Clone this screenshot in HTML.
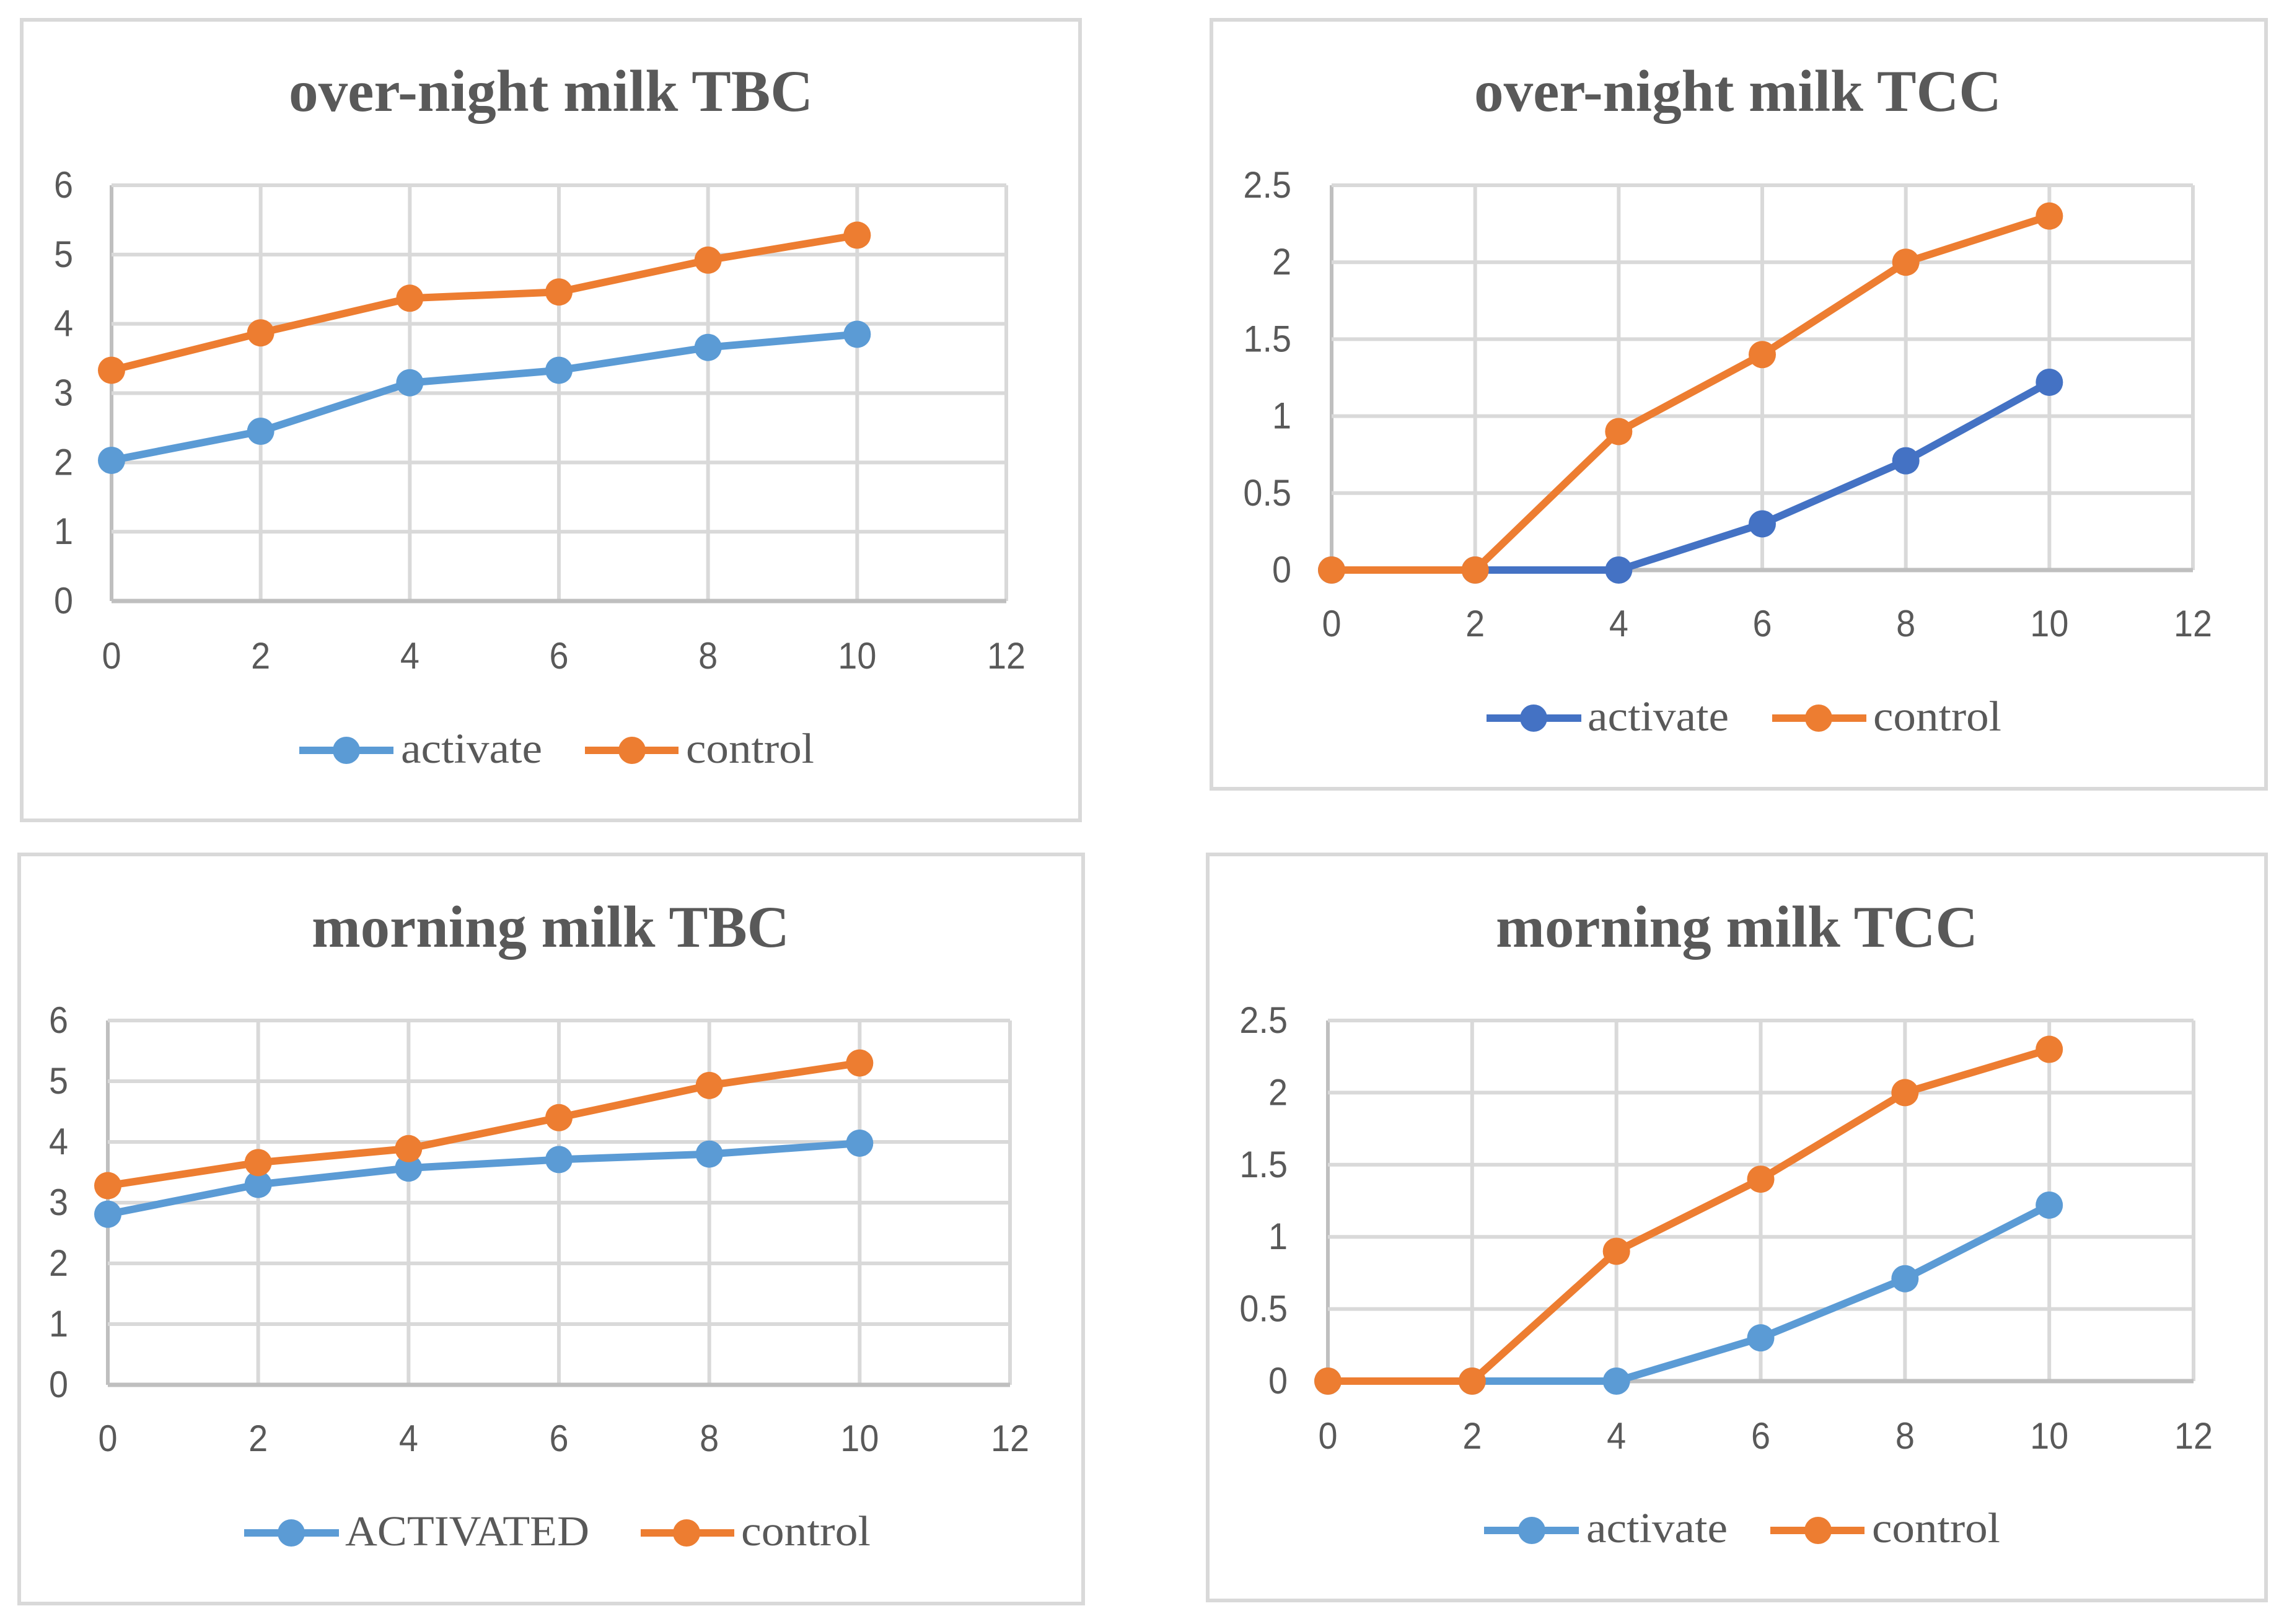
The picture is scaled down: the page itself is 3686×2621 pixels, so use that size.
<!DOCTYPE html>
<html lang="en">
<head>
<meta charset="utf-8">
<title>Milk TBC and TCC charts</title>
<style>
html,body{margin:0;padding:0;background:#fff;}
svg{display:block;}
.frame{fill:#fff;stroke:#d9d9d9;stroke-width:6;}
.title{font-family:"Liberation Serif",serif;font-weight:bold;font-size:95px;fill:#595959;}
.legend-text{font-family:"Liberation Serif",serif;font-size:69px;fill:#595959;}
.tick{font-family:"Liberation Sans",sans-serif;font-size:60px;fill:#595959;}
</style>
</head>
<body>
<svg id="root" xmlns="http://www.w3.org/2000/svg" width="3686" height="2621" viewBox="0 0 3686 2621">
  <rect width="3686" height="2621" fill="#fff"/>

  <g id="chart-a">
    <rect class="frame" x="35" y="32" width="1708" height="1292"/>
    <text class="title" x="466" y="179" textLength="846" lengthAdjust="spacingAndGlyphs">over-night milk TBC</text>
    <g>
      <line x1="483" y1="1211" x2="635" y2="1211" stroke="#5b9bd5" stroke-width="12"/>
      <circle cx="559" cy="1211" r="22" fill="#5b9bd5"/>
      <text class="legend-text" x="647" y="1231" textLength="228" lengthAdjust="spacingAndGlyphs">activate</text>
      <line x1="944" y1="1211" x2="1095" y2="1211" stroke="#ed7d31" stroke-width="12"/>
      <circle cx="1020" cy="1211" r="22" fill="#ed7d31"/>
      <text class="legend-text" x="1107" y="1231" textLength="207" lengthAdjust="spacingAndGlyphs">control</text>
    </g>
  </g>

  <g id="chart-b">
    <rect class="frame" x="1955" y="32" width="1702" height="1241"/>
    <text class="title" x="2379" y="179" textLength="851" lengthAdjust="spacingAndGlyphs">over-night milk TCC</text>
    <g>
      <line x1="2399" y1="1159" x2="2552" y2="1159" stroke="#4472c4" stroke-width="12"/>
      <circle cx="2475" cy="1159" r="22" fill="#4472c4"/>
      <text class="legend-text" x="2562" y="1179" textLength="228" lengthAdjust="spacingAndGlyphs">activate</text>
      <line x1="2860" y1="1159" x2="3012" y2="1159" stroke="#ed7d31" stroke-width="12"/>
      <circle cx="2935" cy="1159" r="22" fill="#ed7d31"/>
      <text class="legend-text" x="3023" y="1179" textLength="207" lengthAdjust="spacingAndGlyphs">control</text>
    </g>
  </g>

  <g id="chart-c">
    <rect class="frame" x="31" y="1379" width="1717" height="1209"/>
    <text class="title" x="503" y="1528" textLength="771" lengthAdjust="spacingAndGlyphs">morning milk TBC</text>
    <g>
      <line x1="394" y1="2474" x2="547" y2="2474" stroke="#5b9bd5" stroke-width="12"/>
      <circle cx="470" cy="2474" r="22" fill="#5b9bd5"/>
      <text class="legend-text" x="557" y="2494" textLength="394" lengthAdjust="spacingAndGlyphs">ACTIVATED</text>
      <line x1="1034" y1="2474" x2="1185" y2="2474" stroke="#ed7d31" stroke-width="12"/>
      <circle cx="1108" cy="2474" r="22" fill="#ed7d31"/>
      <text class="legend-text" x="1196" y="2494" textLength="209" lengthAdjust="spacingAndGlyphs">control</text>
    </g>
  </g>

  <g id="chart-d">
    <rect class="frame" x="1949" y="1379" width="1708" height="1204"/>
    <text class="title" x="2414" y="1528" textLength="778" lengthAdjust="spacingAndGlyphs">morning milk TCC</text>
    <g>
      <line x1="2395" y1="2470" x2="2548" y2="2470" stroke="#5b9bd5" stroke-width="12"/>
      <circle cx="2472" cy="2470" r="22" fill="#5b9bd5"/>
      <text class="legend-text" x="2560" y="2489" textLength="228" lengthAdjust="spacingAndGlyphs">activate</text>
      <line x1="2857" y1="2470" x2="3009" y2="2470" stroke="#ed7d31" stroke-width="12"/>
      <circle cx="2934" cy="2470" r="22" fill="#ed7d31"/>
      <text class="legend-text" x="3021" y="2489" textLength="207" lengthAdjust="spacingAndGlyphs">control</text>
    </g>
  </g>
</svg>
<script>
// Shared axes
const xValues = [0, 2, 4, 6, 8, 10];
const xTickLabels = [0, 2, 4, 6, 8, 10, 12];
const yTickLabelsTbc = [0, 1, 2, 3, 4, 5, 6];
const yTickLabelsTcc = [0, 0.5, 1, 1.5, 2, 2.5];

// Series values
const overnightTbcActivate = [2.03, 2.45, 3.15, 3.33, 3.66, 3.85];
const overnightTbcControl = [3.33, 3.87, 4.37, 4.46, 4.92, 5.28];
const overnightTccActivate = [0, 0, 0, 0.3, 0.71, 1.22];
const overnightTccControl = [0, 0, 0.9, 1.4, 2, 2.3];
const morningTbcActivated = [2.81, 3.3, 3.57, 3.71, 3.8, 3.98];
const morningTbcControl = [3.28, 3.66, 3.89, 4.4, 4.93, 5.3];
const morningTccActivate = [0, 0, 0, 0.3, 0.71, 1.22];
const morningTccControl = [0, 0, 0.9, 1.4, 2, 2.3];

const SVG_NS = 'http://www.w3.org/2000/svg';

function make(parent, tag, attrs) {
  const el = document.createElementNS(SVG_NS, tag);
  for (const key in attrs) el.setAttribute(key, attrs[key]);
  parent.appendChild(el);
  return el;
}

function squeeze(label) {
  const w = label.getComputedTextLength();
  label.setAttribute('textLength', w * 0.93);
  label.setAttribute('lengthAdjust', 'spacingAndGlyphs');
}

function drawChart(cfg) {
  const host = document.getElementById(cfg.id);
  const yTicks = cfg.yTicks;
  const xMax = xTickLabels[xTickLabels.length - 1];
  const yMax = yTicks[yTicks.length - 1];
  const xScale = v => cfg.left + (cfg.right - cfg.left) * v / xMax;
  const yScale = v => cfg.bottom - (cfg.bottom - cfg.top) * v / yMax;

  const grid = make(host, 'g', {});
  
  

  xTickLabels.forEach(t => {
    const line = make(grid, 'line', {x1: xScale(t), x2: xScale(t), y1: cfg.top, y2: cfg.bottom, stroke: t === 0 ? '#bfbfbf' : '#d9d9d9', 'stroke-width': 6});
    
    
    const label = make(host, 'text', {x: xScale(t), y: cfg.xLabelY, 'text-anchor': 'middle', class: 'tick'});
    
    
    label.textContent = t;
    squeeze(label);
  });

  yTicks.forEach(t => {
    const line = make(grid, 'line', {x1: cfg.left, x2: cfg.right, y1: yScale(t), y2: yScale(t), stroke: t === 0 ? '#bfbfbf' : '#d9d9d9', 'stroke-width': t === 0 ? 7 : 6});
    
    
    const label = make(host, 'text', {x: cfg.yLabelX, y: yScale(t) + 20, 'text-anchor': 'end', class: 'tick'});
    
    
    label.textContent = t;
    squeeze(label);
  });

  cfg.series.forEach(s => {
    const group = make(host, 'g', {});
    
    
    const pts = s.values.map((v, i) => xScale(xValues[i]) + ',' + yScale(v)).join(' ');
    const line = make(group, 'polyline', {points: pts, fill: 'none', stroke: s.color, 'stroke-width': 12, 'stroke-linejoin': 'round', 'stroke-linecap': 'round'});
    
    
    s.values.forEach((v, i) => {
      const dot = make(group, 'circle', {cx: xScale(xValues[i]), cy: yScale(v), r: 22, fill: s.color});
      
      
    });
  });
}

drawChart({
  id: 'chart-a', left: 180, right: 1624, top: 299, bottom: 970, yLabelX: 118, xLabelY: 1079,
  yTicks: yTickLabelsTbc,
  series: [
    {name: 'activate', color: '#5b9bd5', values: overnightTbcActivate},
    {name: 'control', color: '#ed7d31', values: overnightTbcControl}
  ]
});
drawChart({
  id: 'chart-b', left: 2149, right: 3539, top: 299, bottom: 920, yLabelX: 2084, xLabelY: 1027,
  yTicks: yTickLabelsTcc,
  series: [
    {name: 'activate', color: '#4472c4', values: overnightTccActivate},
    {name: 'control', color: '#ed7d31', values: overnightTccControl}
  ]
});
drawChart({
  id: 'chart-c', left: 174, right: 1630, top: 1647, bottom: 2235, yLabelX: 110, xLabelY: 2342,
  yTicks: yTickLabelsTbc,
  series: [
    {name: 'activated', color: '#5b9bd5', values: morningTbcActivated},
    {name: 'control', color: '#ed7d31', values: morningTbcControl}
  ]
});
drawChart({
  id: 'chart-d', left: 2143, right: 3540, top: 1647, bottom: 2229, yLabelX: 2078, xLabelY: 2338,
  yTicks: yTickLabelsTcc,
  series: [
    {name: 'activate', color: '#5b9bd5', values: morningTccActivate},
    {name: 'control', color: '#ed7d31', values: morningTccControl}
  ]
});
</script>
</body>
</html>
